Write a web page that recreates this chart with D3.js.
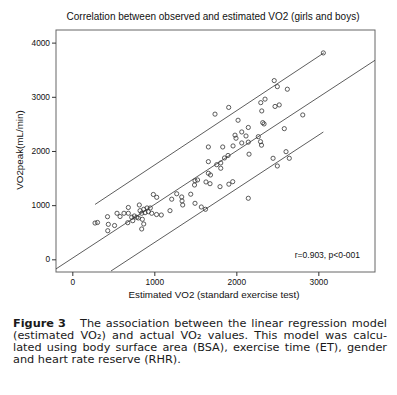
<!DOCTYPE html>
<html>
<head>
<meta charset="utf-8">
<script src="https://cdn.jsdelivr.net/npm/d3@7"></script>
<style>
  body { margin: 0; background: #fff; }
  svg { display: block; }
  .tick text { font-family: "Liberation Sans", Arial, sans-serif; font-size: 8.3px; fill: #111; }
  .tick line { stroke: #333; }
</style>
</head>
<body>
<div id="chart"></div>
<script>
/* DATA */
const estimatedVO2 = [
  277, 307, 429, 439, 432, 515, 545, 582, 630, 683,
  683, 676, 724, 737, 756, 785, 817, 826, 846, 871,
  887, 911, 927, 951, 968, 1027, 1085, 988, 1029, 854,
  871, 846, 805, 1191, 1212, 1273, 1334, 1338, 1346, 1444,
  1496, 1573, 1624, 1496, 1527, 1490, 1630, 1679, 1801, 1909,
  1956, 2146, 1659, 1685, 1659, 1761, 1810, 1810, 1856, 1899,
  1659, 1834, 1960, 2155, 2066, 2146, 1984, 1996, 2066, 2118,
  2146, 2021, 1740, 1907, 2268, 2295, 2307, 2322, 2338, 2298,
  2350, 2310, 2472, 2523, 2462, 2500, 2622, 2810, 3061, 2585,
  2606, 2448, 2646, 2500
];
const observedVO2 = [
  670, 680, 787, 646, 528, 624, 850, 790, 850, 957,
  850, 676, 776, 713, 800, 776, 1003, 898, 850, 924,
  861, 948, 879, 948, 850, 827, 818, 1197, 1145, 739,
  652, 560, 763, 898, 1110, 1210, 1151, 1077, 1003, 1202,
  1034, 966, 924, 1450, 1465, 1372, 1428, 1396, 1341, 1387,
  1433, 1127, 1588, 1557, 1803, 1747, 1779, 1681, 1871, 1917,
  2074, 2074, 2093, 1941, 2148, 2163, 2292, 2235, 2351, 2277,
  2434, 2567, 2680, 2804, 2264, 2172, 2107, 2523, 2499, 2892,
  2957, 2739, 2822, 2850, 3299, 3188, 3140, 2665, 3810, 2412,
  1987, 1865, 1865, 1723
];
// fit line and band lines
const fitSlope = 0.99;
const fitIntercept = 20;
const upperLine = [[277, 1013], [3069, 3812]];
const lowerLine = [[472, -215], [3061, 2350]];

const xTicks = [0, 1000, 2000, 3000];
const yTicks = [0, 1000, 2000, 3000, 4000];
const xDomain = [-199, 3691];
const yDomain = [-234, 4233];

const title = "Correlation between observed and estimated VO2 (girls and boys)";
const xLabel = "Estimated VO2 (standard exercise test)";
const yLabel = "VO2peak(mL/min)";
const note = "r=0.903, p<0-001";
const captionLines = [
  "The association between the linear regression model",
  "(estimated VO\u2082) and actual VO\u2082 values. This model was calcu-",
  "lated using body surface area (BSA), exercise time (ET), gender",
  "and heart rate reserve (RHR)."
];

/* SIZES */
const width = 397;
const height = 395;
const plot = { left: 56, right: 375, top: 30, bottom: 272 };

const svg = d3.select("#chart")
  .append("svg")
  .attr("width", width)
  .attr("height", height);

/* SCALES */
const xScale = d3.scaleLinear().domain(xDomain).range([plot.left, plot.right]);
const yScale = d3.scaleLinear().domain(yDomain).range([plot.bottom, plot.top]);

// title
svg.append("text")
  .attr("x", 213)
  .attr("y", 20)
  .attr("text-anchor", "middle")
  .style("font-family", "'Liberation Sans', Arial, sans-serif")
  .style("font-size", "10px")
  .attr("fill", "#111")
  .text(title);

// frame
svg.append("rect")
  .attr("x", plot.left)
  .attr("y", plot.top)
  .attr("width", plot.right - plot.left)
  .attr("height", plot.bottom - plot.top)
  .attr("fill", "none")
  .attr("stroke", "#666")
  .attr("stroke-width", 1);

/* AXES */
const xAxis = d3.axisBottom(xScale).tickValues(xTicks).tickSize(4).tickPadding(3).tickFormat(d3.format("d"));
svg.append("g")
  .attr("transform", `translate(0,${plot.bottom})`)
  .call(xAxis)
  .call(g => g.select(".domain").remove());

const yAxis = d3.axisLeft(yScale).tickValues(yTicks).tickSize(4).tickPadding(2).tickFormat(d3.format("d"));
svg.append("g")
  .attr("transform", `translate(${plot.left},0)`)
  .call(yAxis)
  .call(g => g.select(".domain").remove());

// axis labels
svg.append("text")
  .attr("x", 214)
  .attr("y", 298)
  .attr("text-anchor", "middle")
  .style("font-family", "'Liberation Sans', Arial, sans-serif")
  .style("font-size", "9.8px")
  .attr("fill", "#111")
  .text(xLabel);

svg.append("text")
  .attr("transform", "translate(23,150) rotate(-90)")
  .attr("text-anchor", "middle")
  .style("font-family", "'Liberation Sans', Arial, sans-serif")
  .style("font-size", "9.8px")
  .attr("fill", "#111")
  .text(yLabel);

/* LINES */
svg.append("clipPath").attr("id", "plot-clip")
  .append("rect")
  .attr("x", plot.left).attr("y", plot.top)
  .attr("width", plot.right - plot.left).attr("height", plot.bottom - plot.top);

const line = d3.line().x(d => xScale(d[0])).y(d => yScale(d[1]));
const fitLine = xDomain.map(x => [x, fitSlope * x + fitIntercept]);

svg.append("g")
  .attr("clip-path", "url(#plot-clip)")
  .selectAll("path")
  .data([fitLine, upperLine, lowerLine])
  .join("path")
  .attr("d", line)
  .attr("fill", "none")
  .attr("stroke", "#333")
  .attr("stroke-width", 0.8);

/* POINTS */
svg.append("g")
  .selectAll("circle")
  .data(estimatedVO2.map((x, i) => [x, observedVO2[i]]))
  .join("circle")
  .attr("cx", d => xScale(d[0]))
  .attr("cy", d => yScale(d[1]))
  .attr("r", 2.1)
  .attr("fill", "none")
  .attr("stroke", "#333")
  .attr("stroke-width", 0.8);

// r note
svg.append("text")
  .attr("x", 360)
  .attr("y", 258)
  .attr("text-anchor", "end")
  .style("font-family", "'Liberation Sans', Arial, sans-serif")
  .style("font-size", "8.5px")
  .attr("fill", "#111")
  .text(note);

/* CAPTION */
const cap = svg.append("g")
  .style("font-family", "'DejaVu Sans', sans-serif")
  .style("font-size", "11.3px")
  .attr("fill", "#1a1a1a");

cap.append("text")
  .attr("x", 13)
  .attr("y", 327)
  .style("font-weight", "bold")
  .text("Figure 3");

// justify lines by spreading the spaces between words
captionLines.forEach((t, i) => {
  const x0 = i === 0 ? 80 : 13;
  const txt = cap.append("text")
    .attr("x", x0)
    .attr("y", 327 + i * 12)
    .text(t);
  if (i < captionLines.length - 1) {
    const natural = txt.node().getComputedTextLength();
    const gaps = t.split(" ").length - 1;
    const extra = (387 - x0 - natural) / gaps;
    txt.style("word-spacing", extra + "px");
  }
});
</script>
</body>
</html>
